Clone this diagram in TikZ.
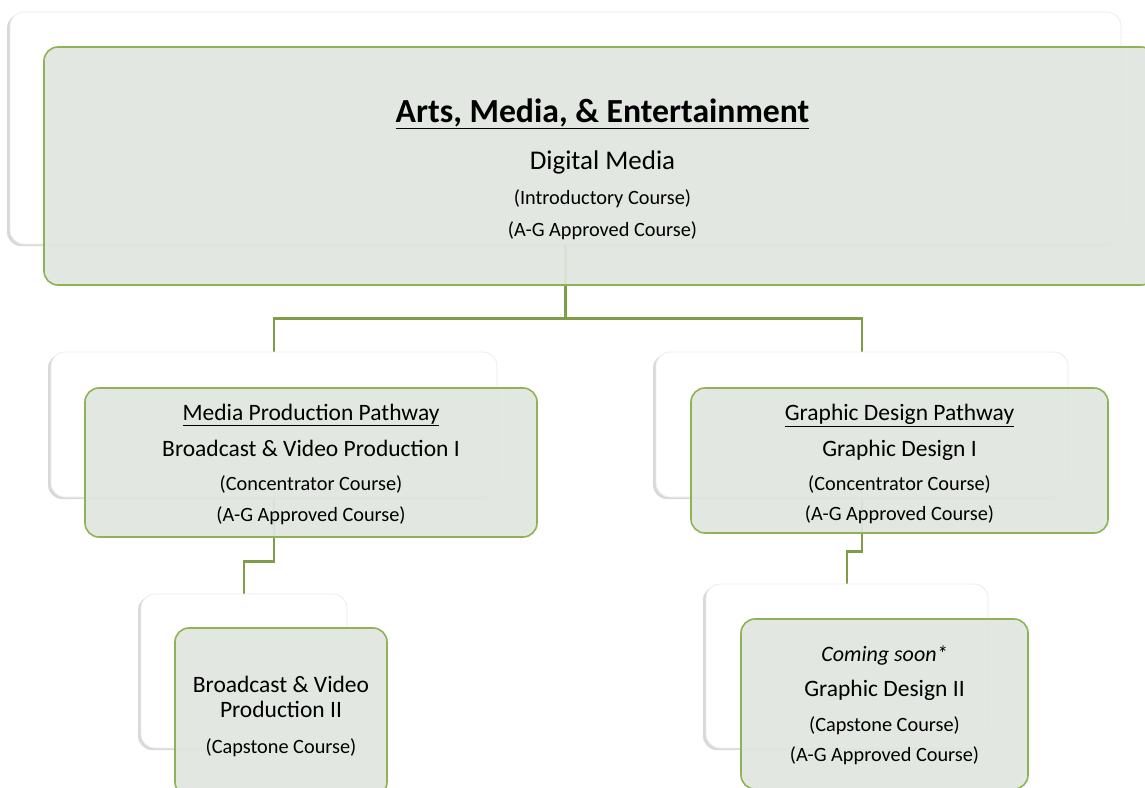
\documentclass[tikz,border=0pt]{standalone}
\usepackage{fontspec}
\setmainfont{Carlito}
\usetikzlibrary{shadows}
\usetikzlibrary{backgrounds}
\usetikzlibrary{positioning}
\definecolor{stemgreen}{RGB}{127,156,72}
\definecolor{boxline}{RGB}{143,178,85}
\definecolor{boxfill}{RGB}{224,230,223}
\newcommand{\courseline}{\fontsize{23.5}{0}\selectfont}
\newcommand{\noteline}{\fontsize{20.3}{0}\selectfont}

\begin{document}
\begin{tikzpicture}[x=1pt, y=-1pt,
	backbox/.style={rectangle, rounded corners=14pt, fill=white, draw=gray!15, line width=0.8pt, inner sep=0pt,
		drop shadow={shadow xshift=-3pt, shadow yshift=-2pt, opacity=0.3}},
	coursebox/.style={rectangle, rounded corners=14pt, fill=boxfill, fill opacity=0.93,
		draw=boxline, line width=1.6pt, inner sep=0pt},
	coursetext/.style={align=center, inner sep=0pt, font=\fontsize{20}{0}\selectfont},
	stem/.style={draw=stemgreen, line width=2.8pt}]
	\useasboundingbox (0,0) rectangle (1145,787);
	\clip (0,0) rectangle (1145,787);
	\node[backbox, minimum width=1111pt, minimum height=232pt] (amebg) at (565.5,128) {};
	\node[backbox, minimum width=446pt, minimum height=145pt] (mppbg) at (274,424.5) {};
	\node[backbox, minimum width=412pt, minimum height=145pt] (gdpbg) at (862,424.5) {};
	\node[backbox, minimum width=206pt, minimum height=154pt] (bvpbg) at (244,671) {};
	\node[backbox, minimum width=282pt, minimum height=164pt] (gd2bg) at (847,666) {};
	\node[coursebox, minimum width=1111pt, minimum height=238pt] (ame) at (599.5,166) {};
	\node[coursebox, minimum width=452pt, minimum height=149pt] (mpp) at (311,462.5) {};
	\node[coursebox, minimum width=417pt, minimum height=145pt] (gdp) at (899.5,460.5) {};
	\node[coursebox, minimum width=212pt, minimum height=168pt] (bvp) at (281,712) {};
	\node[coursebox, minimum width=287pt, minimum height=170pt] (gd2) at (884.5,704) {};
	\node[coursetext, below=76pt of ame.north, xshift=3pt] (ametext)
		{\smash{\bfseries\fontsize{33.7}{0}\selectfont\underline{Arts, Media, \& Entertainment}}\\[47pt]
		\smash{\fontsize{27}{0}\selectfont Digital Media}\\[35pt]
		\smash{\noteline (Introductory Course)}\\[32pt]
		\smash{\noteline (A-G Approved Course)}};
	\node[coursetext, below=33pt of mpp.north] (mpptext)
		{\smash{\courseline\underline{Media Production Pathway}}\\[36pt]
		\smash{\courseline Broadcast \& Video Production I}\\[34pt]
		\smash{\noteline (Concentrator Course)}\\[31pt]
		\smash{\noteline (A-G Approved Course)}};
	\node[coursetext, below=33pt of gdp.north] (gdptext)
		{\smash{\courseline\underline{Graphic Design Pathway}}\\[36pt]
		\smash{\courseline Graphic Design I}\\[34pt]
		\smash{\noteline (Concentrator Course)}\\[30pt]
		\smash{\noteline (A-G Approved Course)}};
	\node[coursetext, below=65pt of bvp.north] (bvptext)
		{\smash{\courseline Broadcast \& Video}\\[25pt]
		\smash{\courseline Production II}\\[36pt]
		\smash{\noteline (Capstone Course)}};
	\node[coursetext, below=43pt of gd2.north] (gd2text)
		{\smash{\itshape\fontsize{22}{0}\selectfont Coming soon*}\\[35pt]
		\smash{\courseline Graphic Design II}\\[35pt]
		\smash{\noteline (Capstone Course)}\\[30pt]
		\smash{\noteline (A-G Approved Course)}};
	\begin{scope}[on background layer]
	\draw[stem] (amebg.south) -- ++(0,74) coordinate (fork);
	\draw[stem] (fork) -| (mppbg.north);
	\draw[stem] (fork) -| (gdpbg.north);
	\draw[stem] (mppbg.south) -- ++(0,64) -| (bvpbg.north);
	\draw[stem] (gdpbg.south) -- ++(0,54) -| (gd2bg.north);
	\end{scope}
\end{tikzpicture}
\end{document}
